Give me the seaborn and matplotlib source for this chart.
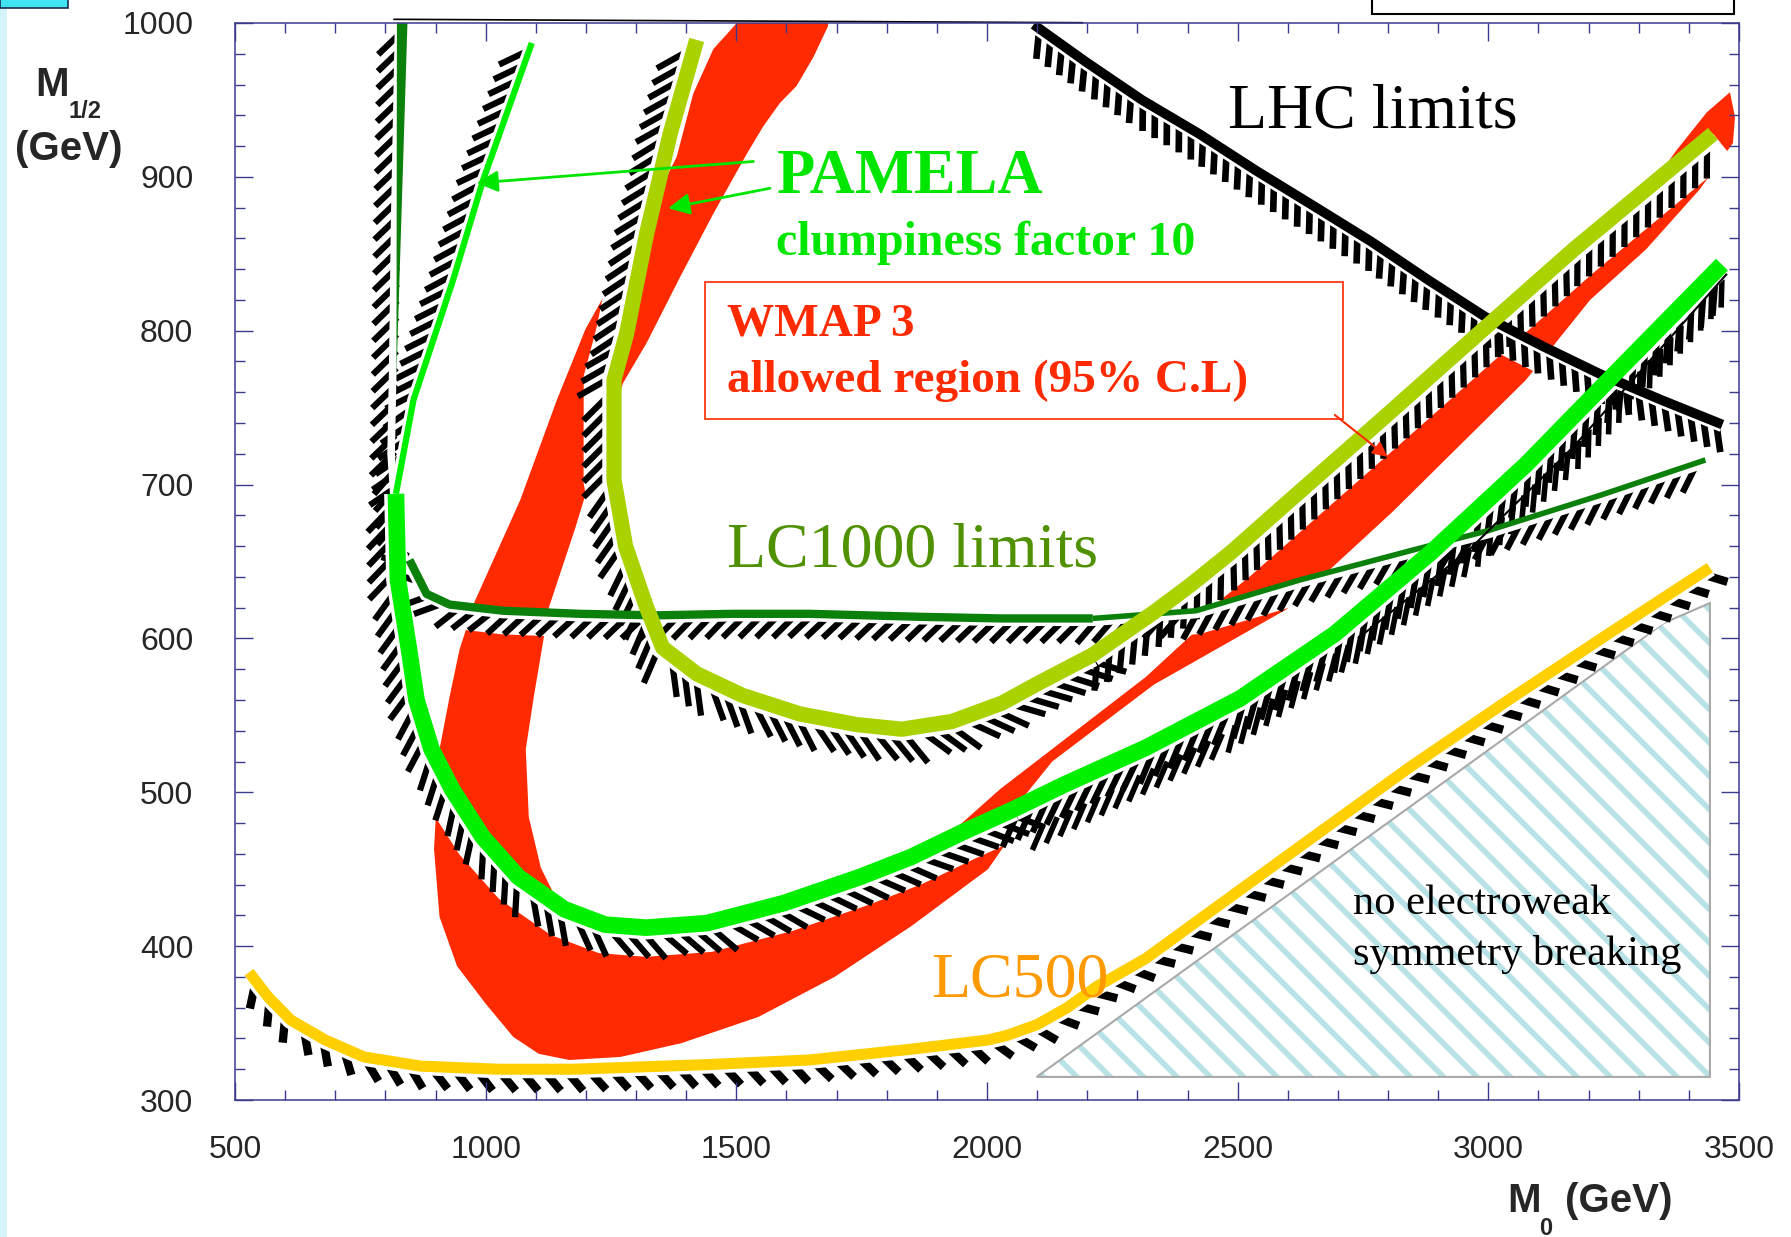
import numpy as np
import seaborn as sns
import matplotlib.pyplot as plt
from matplotlib.patches import Rectangle
from matplotlib.patheffects import TickedStroke
from matplotlib.ticker import MultipleLocator

sns.set_theme(style="white")
plt.rcParams["font.family"] = ["Liberation Sans", "DejaVu Sans"]
plt.rcParams["hatch.linewidth"] = 4.0
plt.rcParams["hatch.color"] = "#b8e2e6"
SERIF = ["Liberation Serif", "DejaVu Serif"]

# curves: M0 (GeV) vs M1/2 (GeV)
pamela_x = [1092, 995, 935, 856, 821, 825, 847, 862, 892, 933, 994, 1065, 1157, 1238, 1320,
            1442, 1595, 1747, 1849, 1951, 2053, 2154, 2317, 2505, 2694, 2886, 3075, 3267, 3466]
pamela_y = [987, 898, 833, 755, 694, 638, 593, 560, 528, 502, 471, 445, 424, 414, 412,
            415, 428, 445, 458, 474, 489, 505, 529, 561, 603, 656, 713, 777, 843]

clump_x = [1421, 1368, 1321, 1281, 1256, 1256, 1279, 1320, 1353, 1421, 1512, 1626, 1740, 1830,
           1930, 2030, 2103, 2209, 2333, 2407, 2487, 2598, 2790, 2980, 3171, 3448]
clump_y = [989, 928, 863, 798, 768, 703, 660, 621, 594, 577, 563, 551, 544, 541,
           546, 558, 571, 589, 617, 635, 656, 688, 743, 798, 853, 928]

lc1000_x = [834, 826, 822, 819, 829, 848, 882, 928, 1035, 1187, 1340, 1493, 1645, 1874,
            2026, 2211, 2417, 2624, 2856, 2999, 3223, 3433]
lc1000_y = [1000, 870, 770, 720, 671, 651, 629, 622, 618, 616, 615, 616, 616, 614,
            613, 613, 618, 638, 658, 670, 693, 716]
lc1000_tip_x = [823, 844, 822]
lc1000_tip_y = [1000, 1000, 770]

lhc_x = [2093, 2196, 2309, 2423, 2537, 2652, 2766, 2880, 2994, 3108, 3222, 3345, 3467]
lhc_y = [999, 975, 950, 928, 904, 881, 858, 833, 809, 790, 772, 755, 739]

lc500_x = [528, 566, 611, 680, 757, 871, 1024, 1176, 1442, 1645, 1848, 2002, 2040, 2100,
           2160, 2220, 2317, 2435, 2638, 2842, 3045, 3249, 3442]
lc500_y = [383, 367, 352, 339, 328, 322, 320, 320, 323, 326, 333, 339, 342, 349,
           360, 374, 392, 420, 468, 516, 561, 605, 646]

edge_x = [2099, 2476, 2740, 2963, 3171, 3476]
edge_y = [477, 539, 600, 658, 725, 837]

wmap_x = [1501, 1454, 1414, 1381, 1288, 1199, 1142, 1069, 974, 958, 948, 928, 908, 897, 908,
          943, 999, 1055, 1106, 1167, 1269, 1391, 1544, 1696, 1849, 2002, 2036, 2056, 2130,
          2333, 2598, 2808, 3075, 3203, 3315, 3422, 3488, 3492, 3482, 3436, 3377, 3303, 3191,
          2999, 2810, 2618, 2507, 2417, 2317, 2026, 1950, 1848, 1747, 1593, 1442, 1320, 1238,
          1142, 1110, 1086, 1080, 1096, 1126, 1178, 1208, 1238, 1274, 1321, 1388, 1454, 1521,
          1554, 1587, 1620, 1654, 1683, 1683]
wmap_y = [1000, 983, 954, 913, 853, 801, 755, 690, 621, 603, 593, 562, 528, 463, 419,
          387, 363, 341, 330, 326, 328, 337, 354, 380, 413, 450, 466, 490, 520,
          570, 619, 682, 768, 820, 853, 892, 922, 939, 955, 942, 918, 885, 843,
          788, 734, 678, 646, 605, 575, 502, 480, 458, 445, 428, 415, 412, 414,
          430, 451, 484, 528, 562, 620, 671, 703, 729, 766, 792, 835, 876, 915,
          933, 948, 959, 978, 998, 1002]

noewsb_x = [2099, 3442, 3442, 3350]
noewsb_y = [315, 315, 623, 610]

top_x = [817, 2191]
top_y = [1002.4, 1000.2]

fig = plt.figure(figsize=(17.91, 12.37), dpi=100)
ax = fig.add_axes([235 / 1791, 1 - 1100 / 1237, 1504 / 1791, 1077 / 1237])
ax.set_xlim(500, 3500)
ax.set_ylim(300, 1000)


def side_band(x, y, width_pt):
    # strip on the right-hand side of the curve, width in points
    pts = ax.transData.transform(np.column_stack([x, y]))
    d = np.diff(pts, axis=0)
    d /= np.hypot(d[:, 0], d[:, 1])[:, None]
    n = np.column_stack([d[:, 1], -d[:, 0]])
    vn = np.vstack([n[:1], n[:-1] + n[1:], n[-1:]])
    vn /= np.hypot(vn[:, 0], vn[:, 1])[:, None]
    outer = pts + vn * width_pt * fig.dpi / 72
    return ax.transData.inverted().transform(np.vstack([pts, outer[::-1]]))


def hatch_edge(x, y, reach, gap, spacing, angle, lw):
    band = side_band(x, y, reach)
    ax.fill(band[:, 0], band[:, 1], color="white", lw=0, zorder=3)
    length = reach / (spacing * np.sin(np.radians(angle)))
    ax.plot(x, y, color="black", lw=lw, solid_capstyle="butt", zorder=3.5,
            path_effects=[TickedStroke(spacing=spacing, angle=-angle, length=length)])
    if gap:
        g = side_band(x, y, gap)
        ax.fill(g[:, 0], g[:, 1], color="white", lw=0, zorder=4)


def curve(x, y, color, lw, z):
    sns.lineplot(x=x, y=y, sort=False, estimator=None, color=color, linewidth=lw, ax=ax,
                 zorder=z, solid_capstyle="butt", solid_joinstyle="round")


# excluded corner
ax.fill(noewsb_x, noewsb_y, facecolor="white", edgecolor="#b8e2e6", hatch="\\", lw=0, zorder=1)
ax.fill(noewsb_x, noewsb_y, fill=False, edgecolor="#a9a9a9", lw=1.5, zorder=1.1)

# WMAP region
ax.fill(wmap_x, wmap_y, color="#ff2a00", lw=0, zorder=2)

# hatched sides
px, py = np.array(pamela_x, float), np.array(pamela_y, float)
cx, cy = np.array(clump_x, float), np.array(clump_y, float)
dx, dy = np.array(lc1000_x, float), np.array(lc1000_y, float)
hatch_edge(px[:5], py[:5], 17, 4.5, 11, 45, 4.5)
hatch_edge(px[4:21], py[4:21], 21, 8.5, 12, 45, 4.5)
hatch_edge(px[20:], py[20:], 21, 8.5, 12, 140, 4.5)
hatch_edge(cx[:18], cy[:18], 22, 8.5, 11, 45, 4.5)
hatch_edge(cx[17:], cy[17:], 22, 8.5, 11, 130, 4.5)
hatch_edge(dx[:6], dy[:6], 17, 5.5, 12, 45, 4.5)
hatch_edge(dx[5:], dy[5:], 17, 5.5, 12, 135, 4.5)
hatch_edge(lhc_x, lhc_y, 19, 5.5, 10, 60, 4.8)
hatch_edge(lc500_x, lc500_y, 15.5, 6.5, 16, 50, 6)
hatch_edge(edge_x, edge_y, 13, 0, 11, 140, 4)

# limit lines
curve(lhc_x, lhc_y, "black", 7, 6)
ax.fill(lc1000_tip_x, lc1000_tip_y, color="#0b800b", lw=0, zorder=6.1)
curve(dx[5:16], dy[5:16], "#0b800b", 6, 6.1)
curve(dx[15:], dy[15:], "#0b800b", 4, 6.1)
curve(edge_x[2:], edge_y[2:], "black", 1.5, 6.1)
curve(lc500_x, lc500_y, "#ffcf00", 8, 6.2)
curve(px[:5], py[:5], "#00f000", 4.5, 6.3)
curve(px[4:], py[4:], "#00f000", 12, 6.3)
curve(clump_x, clump_y, "#aad200", 11, 6.4)
ax.plot(top_x, top_y, color="black", lw=1.2, clip_on=False, zorder=7)

# labels inside the plot
ax.text(2480, 932, "LHC limits", fontsize=46, family=SERIF, color="black", zorder=8)
ax.text(1580, 889.5, "PAMELA", fontsize=45, family=SERIF, fontweight="bold", color="#00e600", zorder=8)
ax.text(1580, 849, "clumpiness factor 10", fontsize=34.5, family=SERIF, fontweight="bold",
        color="#00e600", zorder=8)
ax.add_patch(Rectangle((1437, 742.4), 1273.7, 89.3, fill=False, edgecolor="#ff2a00", lw=1.2, zorder=8))
ax.text(1481, 797, "WMAP 3", fontsize=34, family=SERIF, fontweight="bold", color="#ff2a00", zorder=8)
ax.text(1481, 760.4, "allowed region (95% C.L)", fontsize=34, family=SERIF, fontweight="bold",
        color="#ff2a00", zorder=8)
ax.text(1481, 646.6, "LC1000 limits", fontsize=46, family=SERIF, color="#509100", zorder=8)
ax.text(1889, 367.2, "LC500", fontsize=46, family=SERIF, color="#ff9900", zorder=8)
ax.text(2730, 421, "no electroweak", fontsize=30.5, family=SERIF, color="black", zorder=8)
ax.text(2730, 388, "symmetry breaking", fontsize=30.5, family=SERIF, color="black", zorder=8)

green_arrow = dict(arrowstyle="-|>", color="#00e600", lw=2, mutation_scale=32, shrinkA=0, shrinkB=0)
ax.annotate("", xy=(982, 896), xytext=(1534, 910), arrowprops=green_arrow, zorder=9)
ax.annotate("", xy=(1364, 879.6), xytext=(1567, 892.6), arrowprops=green_arrow, zorder=9)
ax.annotate("", xy=(2799, 718), xytext=(2694, 745.2),
            arrowprops=dict(arrowstyle="-|>", color="#ff2a00", lw=1.5, mutation_scale=22,
                            shrinkA=0, shrinkB=0), zorder=9)

# axes styling
navy = "#3b3b8e"
ax.set_xticks(np.arange(500, 3501, 500))
ax.set_yticks(np.arange(300, 1001, 100))
ax.xaxis.set_minor_locator(MultipleLocator(100))
ax.yaxis.set_minor_locator(MultipleLocator(20))
ax.tick_params(which="both", direction="in", top=True, right=True, bottom=True, left=True,
               color=navy, width=1.0)
ax.tick_params(which="major", length=13)
ax.tick_params(which="minor", length=7)
ax.tick_params(axis="x", which="major", pad=25, labelsize=23)
ax.tick_params(axis="y", which="major", pad=30, labelsize=23)
for sp in ax.spines.values():
    sp.set_color(navy)
    sp.set_linewidth(1.1)
    sp.set_zorder(20)
ax.xaxis.set_zorder(20)
ax.yaxis.set_zorder(20)
ax.grid(False)

# axis titles
fig.text(35 / 1791, 1 - 96 / 1237, "M", fontsize=29, fontweight="bold")
fig.text(68 / 1791, 1 - 118 / 1237, "1/2", fontsize=17, fontweight="bold")
fig.text(15 / 1791, 1 - 160 / 1237, "(GeV)", fontsize=29, fontweight="bold")
fig.text(1507 / 1791, 1 - 1212 / 1237, "M", fontsize=29, fontweight="bold")
fig.text(1539 / 1791, 1 - 1235 / 1237, "0", fontsize=17, fontweight="bold")
fig.text(1565 / 1791, 1 - 1212 / 1237, "(GeV)", fontsize=29, fontweight="bold")

# slide leftovers around the figure
fig.add_artist(Rectangle((0, 0), 7 / 1791, 1, transform=fig.transFigure,
                         facecolor="#d4f4fa", edgecolor="none"))
fig.add_artist(Rectangle((0, 1 - 8 / 1237), 68 / 1791, 0.02, transform=fig.transFigure,
                         facecolor="#3fe3f2", edgecolor="#1c3050", lw=1.2))
fig.add_artist(Rectangle((1372 / 1791, 1 - 14 / 1237), 362 / 1791, 0.05, transform=fig.transFigure,
                         facecolor="white", edgecolor="black", lw=1.5))

fig.savefig("out.png", dpi=100)
